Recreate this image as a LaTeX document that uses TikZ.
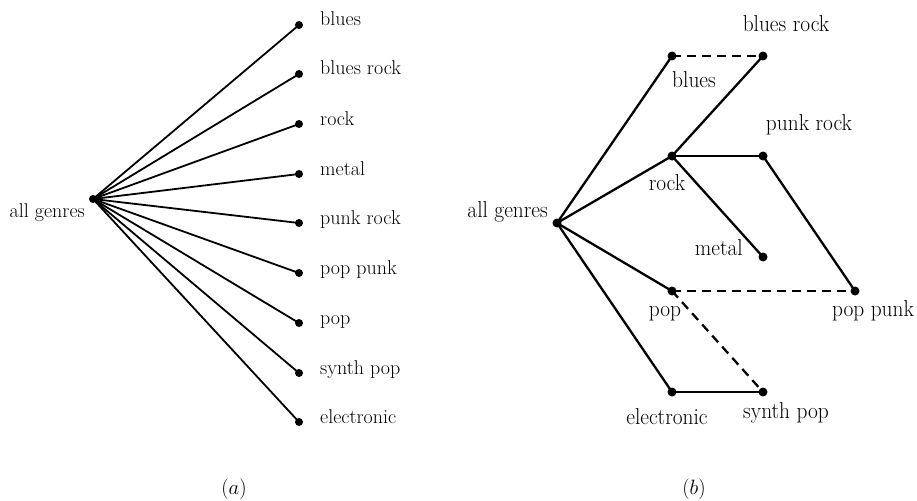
\documentclass[tikz,border=0pt]{standalone}
\begin{document}
\begin{tikzpicture}[x=1pt,y=-1pt,
  dotA/.style={circle,fill=black,inner sep=0pt,minimum size=8pt},
  dotB/.style={circle,fill=black,inner sep=0pt,minimum size=9pt},
  labA/.style={inner sep=0pt,font=\fontsize{20}{22}\selectfont},
  labB/.style={inner sep=0pt,font=\fontsize{23}{25}\selectfont},
  edgeA/.style={line width=1.8pt},
  edgeB/.style={line width=2.3pt},
  dashB/.style={line width=2.3pt,dash pattern=on 9pt off 6pt}]
\useasboundingbox (0,0) rectangle (917,500);
\newcommand{\nb}[1]{\scalebox{0.93}[1]{#1}}
% ---------- (a) ----------
\node[dotA] (aall) at (93,199) {};
\node[labA,anchor=base east] (aallL) at (85,217) {all genres};
\foreach \n/\t/\y in {a1/blues/25,a2/blues rock/74,a3/rock/124,a4/metal/174,a5/punk rock/223,a6/pop punk/273,a7/pop/323,a8/synth pop/373,a9/electronic/422}{
  \node[dotA] (\n) at (299,\y) {};
  \node[labA,anchor=base west] (\n L) at (320,\y+1) {\t};
  \draw[edgeA] (aall.center) -- (\n.center);
}
\node[labA] (capa) at (234,489) {$(a)$};
% ---------- (b) ----------
\node[dotB] (ball) at (557,223) {};
\node[dotB] (bblues) at (672,56) {};
\node[dotB] (bbrock) at (763,56) {};
\node[dotB] (brock) at (672,156) {};
\node[dotB] (bprock) at (763,156) {};
\node[dotB] (bmetal) at (763,257) {};
\node[dotB] (bpop) at (672,291) {};
\node[dotB] (bppunk) at (855,291) {};
\node[dotB] (belec) at (672,392) {};
\node[dotB] (bsynth) at (763,392) {};
\node[labB,anchor=base east] at (548,217) {\nb{all genres}};
\node[labB,anchor=base] at (694,88) {\nb{blues}};
\node[labB,anchor=base] at (786,32) {\nb{blues rock}};
\node[labB,anchor=base] at (667,190) {\nb{rock}};
\node[labB,anchor=base] at (809,130) {\nb{punk rock}};
\node[labB,anchor=base east] at (743,255) {\nb{metal}};
\node[labB,anchor=base] at (665,316) {\nb{pop}};
\node[labB,anchor=base] at (873,316) {\nb{pop punk}};
\node[labB,anchor=base] at (667,424) {\nb{electronic}};
\node[labB,anchor=base] at (786,418) {\nb{synth pop}};
\draw[edgeB] (ball.center) -- (bblues.center);
\draw[edgeB] (ball.center) -- (brock.center);
\draw[edgeB] (ball.center) -- (bpop.center);
\draw[edgeB] (ball.center) -- (belec.center);
\draw[edgeB] (brock.center) -- (bbrock.center);
\draw[edgeB] (brock.center) -- (bprock.center);
\draw[edgeB] (brock.center) -- (bmetal.center);
\draw[edgeB] (bprock.center) -- (bppunk.center);
\draw[edgeB] (belec.center) -- (bsynth.center);
\draw[dashB] (bblues.center) -- (bbrock.center);
\draw[dashB] (bpop.center) -- (bppunk.center);
\draw[dashB] (bpop.center) -- (bsynth.center);
\node[labA] (capb) at (694,489) {$(b)$};
\end{tikzpicture}
\end{document}
